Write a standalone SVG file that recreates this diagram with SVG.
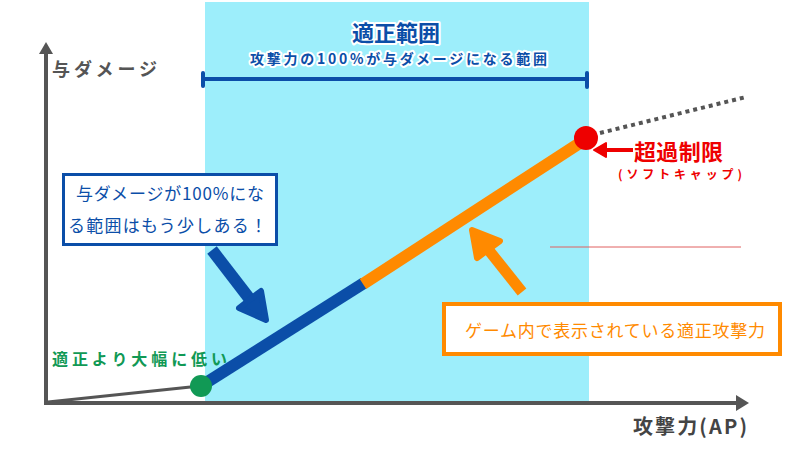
<svg xmlns="http://www.w3.org/2000/svg" width="800" height="450" viewBox="0 0 800 450">
<style>
.jp{font-family:"Noto Sans CJK JP","Noto Sans",sans-serif}
.axis{stroke:#555;stroke-width:4;fill:none}
.axlab{fill:#555;font-weight:bold}
.outline{paint-order:stroke;stroke:#fff;stroke-width:4;stroke-linejoin:round}
</style>
<rect width="800" height="450" fill="#fff"/>
<g id="zone">
<rect x="205" y="2" width="384" height="401" fill="#9DEEFB"/>
<text class="jp outline" x="396" y="41" font-size="22" font-weight="bold" fill="#0B4EA8" text-anchor="middle">適正範囲</text>
<text class="jp outline" x="250" y="64" font-size="14" font-weight="bold" fill="#0B4EA8" textLength="297" lengthAdjust="spacing">攻撃力の100%が与ダメージになる範囲</text>
<g stroke="#0B4EA8" stroke-width="4" stroke-linecap="round">
<line x1="203" y1="79" x2="587" y2="79"/>
<line x1="203" y1="73" x2="203" y2="86"/>
<line x1="587" y1="73" x2="587" y2="87"/>
</g>
</g>
<g id="axes">
<line class="axis" x1="46" y1="405" x2="46" y2="52"/>
<polygon points="46,42 39,54 53,54" fill="#555"/>
<line class="axis" x1="44" y1="403" x2="738" y2="403"/>
<polygon points="749,403 736,395 736,411" fill="#555"/>
<text class="jp axlab" x="52" y="76" font-size="18" letter-spacing="4">与ダメージ</text>
<text class="jp" x="633" y="434" font-size="20" font-weight="bold" fill="#444" textLength="114" lengthAdjust="spacing">攻撃力(AP)</text>
</g>
<g id="connectors">
<line x1="48" y1="402" x2="200" y2="386" stroke="#555" stroke-width="3"/>
<line x1="201" y1="386" x2="364" y2="283" stroke="#0B4EA8" stroke-width="12"/>
<line x1="363" y1="284" x2="586" y2="139" stroke="#FF8A00" stroke-width="12"/>
<line x1="600" y1="133" x2="746" y2="97" stroke="#555" stroke-width="4" stroke-dasharray="4 4"/>
<line x1="212" y1="250" x2="252" y2="302" stroke="#0B4EA8" stroke-width="12"/>
<polygon points="266,320 239,308 261,291" fill="#0B4EA8" stroke="#0B4EA8" stroke-width="6" stroke-linejoin="round"/>
<line x1="522" y1="292" x2="487" y2="248" stroke="#FF8A00" stroke-width="11"/>
<polygon points="472,230 500,241 477,258" fill="#FF8A00" stroke="#FF8A00" stroke-width="6" stroke-linejoin="round"/>
<line x1="633" y1="150" x2="603" y2="150" stroke="#EE0000" stroke-width="4"/>
<polygon points="594,150 606,143 606,157" fill="#EE0000" stroke="#EE0000" stroke-width="2" stroke-linejoin="round"/>
<line x1="550" y1="247" x2="741" y2="247" stroke="#E06060" stroke-width="1"/>
</g>
<g id="low-point">
<circle cx="201" cy="386" r="11" fill="#119955"/>
<text class="jp" x="52" y="365" font-size="16" font-weight="bold" fill="#119955" textLength="175" lengthAdjust="spacing">適正より大幅に低い</text>
</g>
<g id="soft-cap">
<circle cx="586" cy="138" r="12" fill="#EE0000"/>
<text class="jp" x="634" y="160" font-size="22" font-weight="bold" fill="#EE0000" textLength="89" lengthAdjust="spacing">超過制限</text>
<text class="jp" x="618" y="179" font-size="12" font-weight="bold" fill="#EE0000" textLength="124" lengthAdjust="spacing">(ソフトキャップ)</text>
</g>
<g id="note-blue">
<rect x="63.5" y="174.5" width="213" height="70" fill="#fff" stroke="#0B4EA8" stroke-width="3"/>
<text class="jp" x="76" y="200" font-size="17" fill="#0B4EA8" textLength="188" lengthAdjust="spacing">与ダメージが100%にな</text>
<text class="jp" x="68" y="232" font-size="17" fill="#0B4EA8" textLength="199" lengthAdjust="spacing">る範囲はもう少しある！</text>
</g>
<g id="note-orange">
<rect x="444" y="304" width="336" height="50" fill="#fff" stroke="#FF8A00" stroke-width="4"/>
<text class="jp" x="465" y="337" font-size="17" fill="#FF8A00" textLength="300" lengthAdjust="spacing">ゲーム内で表示されている適正攻撃力</text>
</g>
</svg>
